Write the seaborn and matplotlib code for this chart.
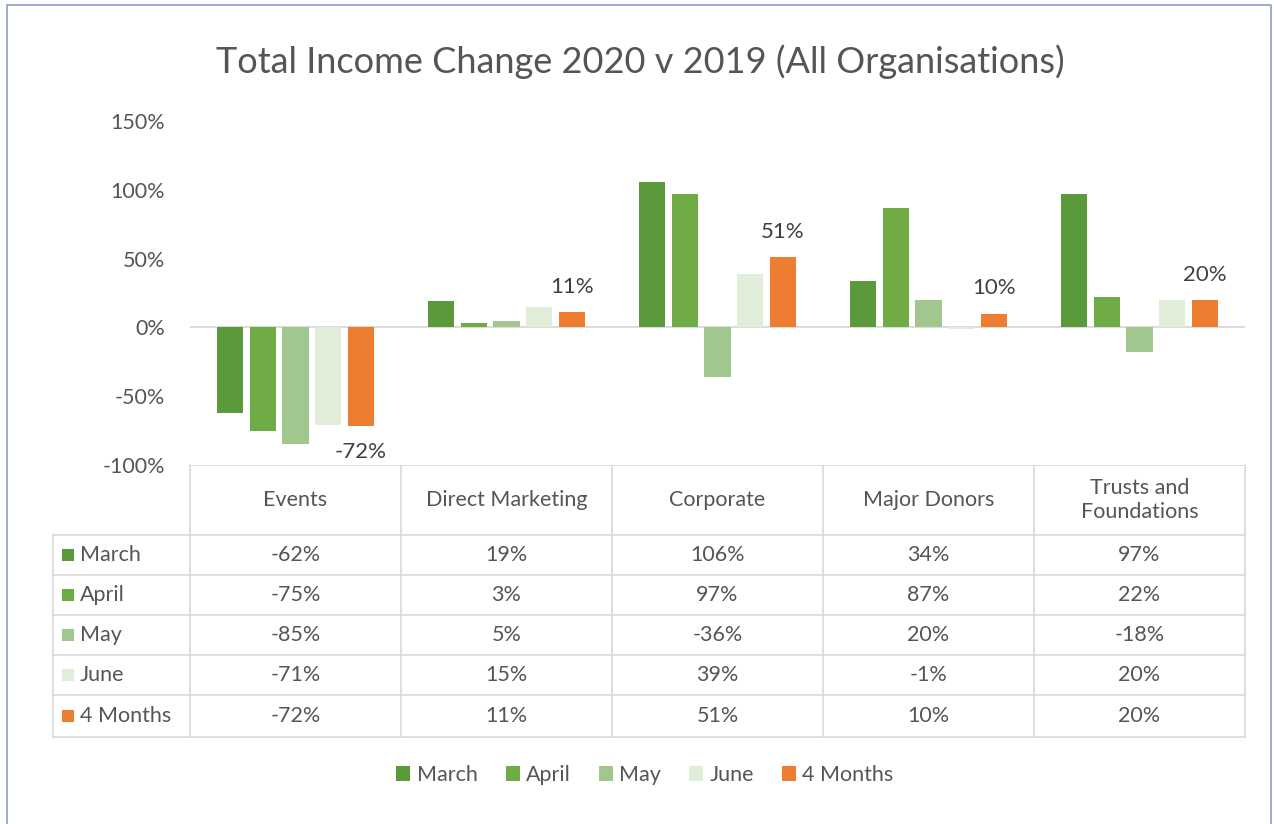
import matplotlib
matplotlib.use("Agg")
import numpy as np
import pandas as pd
import seaborn as sns
from matplotlib import pyplot as plt
from matplotlib.patches import Patch, Rectangle
from matplotlib.ticker import FuncFormatter

categories = ["Events", "Direct Marketing", "Corporate", "Major Donors", "Trusts and\nFoundations"]
series = ["March", "April", "May", "June", "4 Months"]
march = [-0.62, 0.19, 1.06, 0.34, 0.97]
april = [-0.75, 0.03, 0.97, 0.87, 0.22]
may = [-0.85, 0.05, -0.36, 0.20, -0.18]
june = [-0.71, 0.15, 0.39, -0.01, 0.20]
four_months = [-0.72, 0.11, 0.51, 0.10, 0.20]
yticks = [-1.0, -0.5, 0.0, 0.5, 1.0, 1.5]

colors = ["#5b9a3b", "#6fac46", "#a2c78e", "#e0eed9", "#ed7d31"]
text_col = "#555555"
grid_col = "#d9d9d9"

values = [march, april, may, june, four_months]
df = pd.DataFrame(
    [(c, s, v) for s, vals in zip(series, values) for c, v in zip(categories, vals)],
    columns=["category", "series", "value"],
)

sns.set_style("white")
plt.rcParams["font.family"] = ["Lato", "DejaVu Sans"]
plt.rcParams["axes.unicode_minus"] = False

W, H = 1274, 824
fig = plt.figure(figsize=(W / 100, H / 100), dpi=100)

# plot area in pixel terms
left, right, top, bottom = 190, 1245, 121, 465
ax = fig.add_axes([left / W, 1 - bottom / H, (right - left) / W, (bottom - top) / H])

sns.barplot(
    data=df, x="category", y="value", hue="series", hue_order=series,
    order=categories, palette=colors, saturation=1, width=0.775, gap=0.2,
    linewidth=0, legend=False, ax=ax,
)
ax.set_xlim(-0.5, len(categories) - 0.5)
ax.set_ylim(yticks[0], yticks[-1])
ax.set_yticks(yticks)
ax.yaxis.set_major_formatter(FuncFormatter(lambda v, _: f"{v:.0%}"))
ax.tick_params(axis="y", length=0, pad=18, labelsize=15.5, labelcolor=text_col)
ax.set_xticks([])
ax.set_xlabel("")
ax.set_ylabel("")
for s in ax.spines.values():
    s.set_visible(False)
ax.axhline(0, color=grid_col, lw=1.3, zorder=0)

# data labels on the 4 Months series only
ax.bar_label(ax.containers[-1], labels=[f"{v:.0%}" for v in four_months],
             padding=11, fontsize=16, color="#404040")

fig.suptitle("Total Income Change 2020 v 2019 (All Organisations)",
             x=640 / W, y=1 - 62 / H, va="center", fontsize=26, color=text_col)

# data table underneath, drawn on a pixel-space overlay
ov = fig.add_axes([0, 0, 1, 1], zorder=-1)
ov.set_xlim(0, W)
ov.set_ylim(H, 0)
ov.axis("off")

col_w = (right - left) / len(categories)
col_x = [left + i * col_w for i in range(len(categories) + 1)]
row_y = [bottom, 535, 575, 615, 655, 695, 737]
lab_x = 53

kw = dict(color=grid_col, lw=1.2)
ov.plot([left, right], [row_y[0], row_y[0]], **kw)
for y in row_y[1:]:
    ov.plot([lab_x, right], [y, y], **kw)
for x in col_x:
    ov.plot([x, x], [row_y[0], row_y[-1]], **kw)
ov.plot([lab_x, lab_x], [row_y[1], row_y[-1]], **kw)

for i, cat in enumerate(categories):
    cx = (col_x[i] + col_x[i + 1]) / 2
    ov.text(cx, (row_y[0] + row_y[1]) / 2, cat, ha="center", va="center",
            fontsize=15.5, color=text_col, linespacing=1.25)
    for j, vals in enumerate(values):
        cy = (row_y[j + 1] + row_y[j + 2]) / 2
        ov.text(cx, cy, f"{vals[i]:.0%}", ha="center", va="center",
                fontsize=15.5, color=text_col)

for j, name in enumerate(series):
    cy = (row_y[j + 1] + row_y[j + 2]) / 2
    ov.add_patch(Rectangle((62, cy - 6), 12, 12, color=colors[j], lw=0))
    ov.text(80, cy, name, ha="left", va="center", fontsize=15.5, color=text_col)

# outer frame (left, top, right)
ov.plot([7, 7, 1271, 1271], [H, 5, 5, H], color="#8e9cc6", lw=1.2)

handles = [Patch(color=c, lw=0) for c in colors]
fig.legend(handles, series, loc="center", bbox_to_anchor=(645 / W, 1 - 775 / H),
           ncol=5, frameon=False, fontsize=15.5, labelcolor=text_col,
           handlelength=0.65, handleheight=0.65, handletextpad=0.3,
           columnspacing=1.3)

fig.savefig("out.png", dpi=100, facecolor="white")
